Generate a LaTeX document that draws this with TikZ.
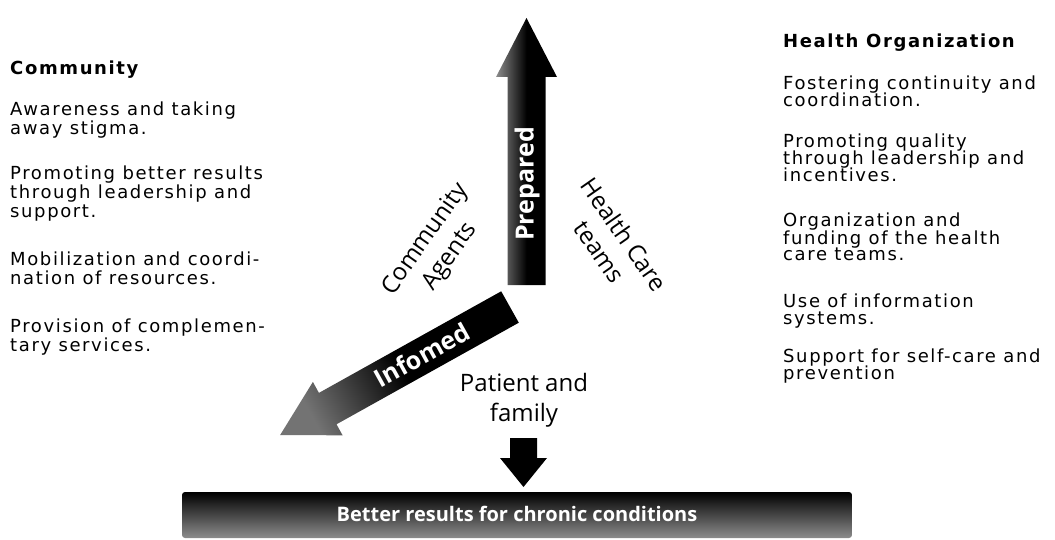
\documentclass[tikz,border=0pt]{standalone}
\usepackage{fontspec}
\setmainfont{Open Sans}
\newfontfamily\colfont[LetterSpace=9]{DejaVu Sans}
\usetikzlibrary{positioning}
\newcommand\tightlines{\lineskiplimit=-20pt\relax}

\tikzset{
  colhead/.style={anchor=base west,inner sep=0pt,font=\colfont\fontsize{18}{22}\selectfont\bfseries},
  leftcol/.style={anchor=base west,align=left,inner sep=0pt,
    font=\tightlines\colfont\fontsize{18}{19}\selectfont},
  rightcol/.style={anchor=base west,align=left,inner sep=0pt,
    font=\tightlines\colfont\fontsize{18}{17}\selectfont},
  midlabel/.style={align=center,inner sep=0pt,font=\fontsize{24}{30}\selectfont},
  arrowlabel/.style={inner sep=0pt,text=white,font=\bfseries\fontsize{25}{30}\selectfont}
}

\begin{document}
\begin{tikzpicture}[x=1pt,y=-1pt]
\useasboundingbox (0,0) rectangle (1055,540);

% left column (nodes sit on their last baseline)
\node [colhead] (community) at (10,75) {Community};
\node [leftcol] (aware) at (10,135) {Awareness and taking\\away stigma.};
\node [leftcol] (promote) at (10,218) {Promoting better results\\through leadership and\\support.};
\node [leftcol] (mobil) at (10,284) {Mobilization and coordi-\\nation of resources.};
\node [leftcol] (provis) at (10,351) {Provision of complemen-\\tary services.};

% right column
\node [colhead] (healthorg) at (783,48) {Health Organization};
\node [rightcol] (foster) at (783,107) {Fostering continuity and\\coordination.};
\node [rightcol] (quality) at (783,182) {Promoting quality\\through leadership and\\incentives.};
\node [rightcol] (funding) at (783,261) {Organization and\\funding of the health\\care teams.};
\node [rightcol] (infosys) at (783,324) {Use of information\\systems.};
\node [rightcol] (selfcare) at (783,379) {Support for self-care and\\prevention};

% prepared arrow
\shade [left color=black!45,right color=black,middle color=black]
  (507.5,285) -- (507.5,77) -- (496,77) -- (526.5,18) -- (557,77)
  -- (545.5,77) -- (545.5,285) -- cycle;
\node [arrowlabel,rotate=90] (prepared) at (527,184) {Prepared};

% informed arrow
\shade [top color=black,bottom color=black!55,middle color=black,shading angle=-61]
  (501.2,291.3) -- (318.9,392.9) -- (312.9,381.9) -- (280.1,435.1)
  -- (342.6,435.3) -- (336.5,424.3) -- (518.8,322.7) -- cycle;
\node [arrowlabel,rotate=29] (informed) at (422,355) {Infomed};

% side labels
\node [midlabel,rotate=55] (agents) at (438,248) {Community\\Agents};
\node [midlabel,rotate=-55] (teams) at (612,243) {Health Care\\teams};
\node [midlabel] (patient) at (524,400) {Patient and\\family};

% down arrow
\fill (510,438) -- (537,438) -- (537,458) -- (547,458) -- (523.5,487)
  -- (500,458) -- (510,458) -- cycle;

% result bar
\shade [rounded corners=3pt,top color=black,middle color=black,bottom color=black!45]
  (182,492) rectangle (852,538);
\node [arrowlabel,font=\bfseries\fontsize{20}{24}\selectfont,anchor=base]
  (result) at (517,521) {Better results for chronic conditions};
\end{tikzpicture}
\end{document}
